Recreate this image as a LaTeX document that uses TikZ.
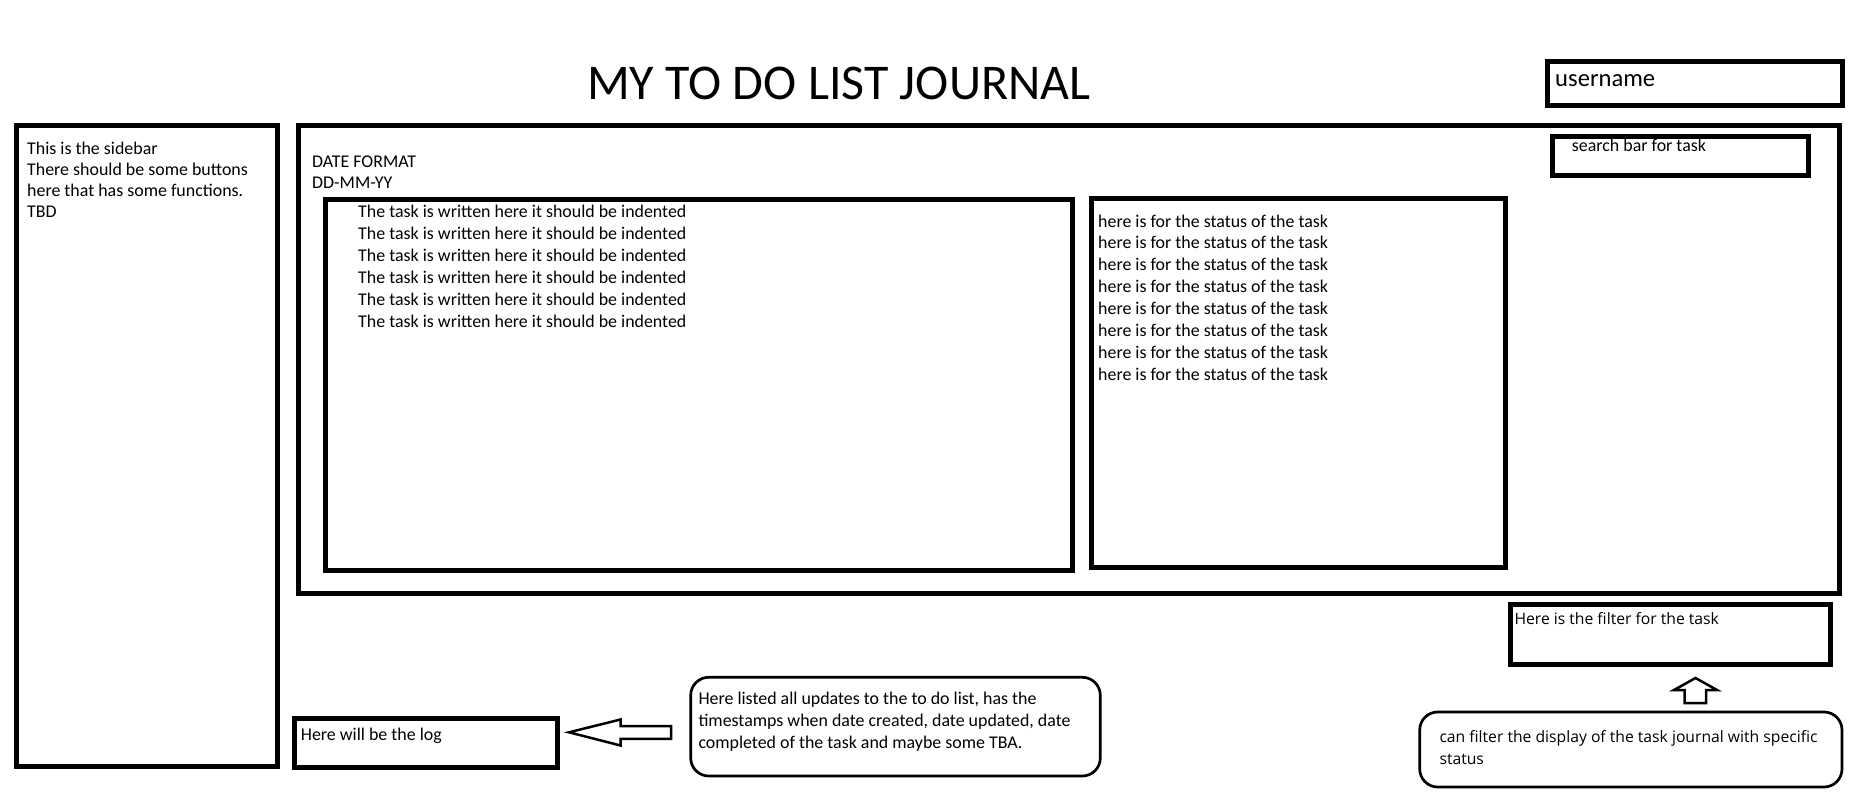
\documentclass[tikz,border=0pt]{standalone}
\usepackage{fontspec}
\setmainfont{Carlito}
\newfontfamily\uifont{Open Sans}
\tikzset{
  box/.style={draw,line width=5pt,inner sep=0pt,outer sep=0pt,anchor=north west},
  bubble/.style={draw,line width=2.7pt,rounded corners=18pt,inner sep=0pt,outer sep=0pt,anchor=north west},
  txt/.style={inner sep=0pt,anchor=base west,font=\fontsize{17.9}{21}\selectfont},
  uitxt/.style={inner sep=0pt,anchor=base west,font=\uifont\fontsize{15.7}{22}\selectfont},
  blockarrow/.style={draw,line width=2.5pt,line join=miter},
}
\begin{document}
\begin{tikzpicture}[x=1pt,y=-1pt]
                \useasboundingbox (0,0) rectangle (1872,795);
                % frames
                \node[box,minimum width=295pt,minimum height=43.7pt] (user) at (1547.5,61.5) {};
                \node[box,minimum width=261pt,minimum height=640.5pt] (sidebar) at (16.5,125.5) {};
                \node[box,minimum width=1541.3pt,minimum height=467.5pt] (journal) at (298.5,125.5) {};
                \node[box,minimum width=255.8pt,minimum height=38.2pt] (search) at (1552.5,136.8) {};
                \node[box,minimum width=747pt,minimum height=370.5pt] (tasks) at (325.5,199.5) {};
                \node[box,minimum width=413.5pt,minimum height=368.5pt] (status) at (1091.5,198.5) {};
                \node[box,minimum width=320pt,minimum height=60pt] (filter) at (1510.5,604.5) {};
                \node[box,minimum width=262.5pt,minimum height=49pt] (log) at (294.5,718) {};
                \node[bubble,minimum width=409.6pt,minimum height=98.7pt] (updates) at (690.7,677.3) {};
                \node[bubble,minimum width=422.3pt,minimum height=75pt] (filterinfo) at (1419.7,712) {};
                % texts
                \node[inner sep=0pt,anchor=base west,font=\fontsize{50}{60}\selectfont] (title) at (587,99) {MY TO DO LIST JOURNAL};
                \node[inner sep=0pt,anchor=base west,font=\fontsize{24.6}{30}\selectfont] (usertxt) at (1555,86.5) {username};
                \node[txt] (searchtxt) at (1571.7,151.5) {search bar for task};
                \node[txt] (date1) at (312,167.5) {DATE FORMAT};
                \node[txt] (date2) at (312,188.5) {DD-MM-YY};
                \foreach \t [count=\i from 0] in {This is the sidebar,There should be some buttons,here that has some functions.,TBD}{
                    \node[txt] (side\i) at (27,154+21.1*\i) {\t};
                }
                \foreach \i in {0,...,5}{
                    \node[txt] (task\i) at (358,217+22.06*\i) {The task is written here it should be indented};
                }
                \foreach \i in {0,...,7}{
                    \node[txt] (stat\i) at (1098,227+21.9*\i) {here is for the status of the task};
                }
                \node[txt] (logtxt) at (300.7,740.5) {Here will be the log};
                \foreach \t [count=\i from 0] in {{Here listed all updates to the to do list, has the},{timestamps when date created, date updated, date},{completed of the task and maybe some TBA.}}{
                    \node[txt] (upd\i) at (698.3,704+22*\i) {\t};
                }
                \node[uitxt] (filtertxt) at (1514.3,624.5) {Here is the filter for the task};
                \node[uitxt] (info0) at (1439.3,742.2) {can filter the display of the task journal with specific};
                \node[uitxt] (info1) at (1439.3,764.5) {status};
                % block arrows
                \draw[blockarrow] (569,732.3) -- (620.5,719.5) -- (620.5,726.2) -- (671,726.2) -- (671,738.8) -- (620.5,738.8) -- (620.5,745.5) -- cycle;
                \draw[blockarrow] (1695.5,678) -- (1717,690) -- (1706,690) -- (1706,703) -- (1684.5,703) -- (1684.5,690) -- (1674,690) -- cycle;
            \end{tikzpicture}
\end{document}
